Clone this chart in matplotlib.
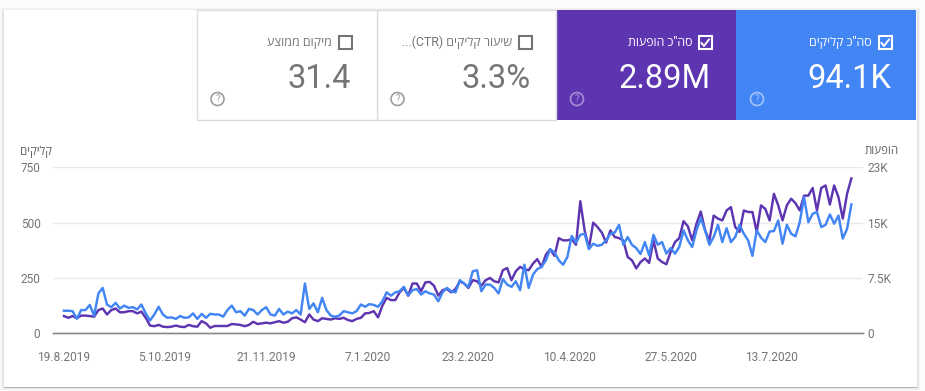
import matplotlib
matplotlib.use("Agg")
import matplotlib.pyplot as plt
from matplotlib.patches import Rectangle, Circle
import pandas as pd

W, H = 925, 391
HEB = ['Roboto', 'Open Sans', 'Liberation Sans', 'DejaVu Sans']
plt.rcParams['font.family'] = HEB

clicks = [102,102,100,66,105,105,128,80,180,205,130,118,138,112,125,115,118,108,130,90,
          58,85,120,85,70,72,65,78,70,72,90,65,88,70,88,85,85,75,105,125,
          95,100,80,110,105,85,105,118,85,80,110,85,98,90,105,85,225,110,135,95,
          160,105,80,75,80,100,95,90,100,130,120,132,128,120,145,185,170,185,190,210,
          170,195,200,175,190,180,175,145,185,205,190,185,240,225,210,280,285,190,220,220,
          205,180,245,220,210,235,195,310,205,265,290,300,330,380,365,330,310,345,440,410,
          445,450,380,405,395,400,420,450,455,490,400,435,400,385,358,412,352,445,400,412,
          360,385,360,390,465,420,390,465,520,465,400,435,490,412,475,412,435,490,450,420,
          350,465,432,412,460,462,510,405,490,450,438,502,615,502,540,548,480,490,537,495,
          532,428,472,582]
impressions_k = [2.34,2.10,2.34,2.04,2.40,2.40,2.34,2.25,3.15,3.36,2.55,3.15,3.36,2.85,2.85,3.00,3.00,2.70,2.94,2.10,
                 1.05,.96,1.14,.90,.84,.90,1.05,.90,.84,1.14,.96,.90,1.65,1.35,.75,.99,.99,.99,.99,1.26,
                 1.20,1.14,.96,1.14,1.56,1.26,1.35,1.44,1.35,1.50,1.65,1.44,1.56,2.04,2.16,1.86,1.50,2.55,1.86,1.65,
                 2.04,1.95,1.86,2.04,1.95,2.10,1.80,1.65,1.95,2.10,2.70,2.76,3.00,2.16,3.75,4.80,4.50,4.50,5.55,6.15,
                 5.10,6.75,6.75,5.70,6.90,6.96,6.45,5.10,5.85,6.00,5.55,6.00,7.05,6.75,6.15,7.20,7.05,6.45,7.20,7.50,
                 7.05,6.90,8.55,8.85,7.20,8.40,9.00,8.70,8.55,9.45,10.05,9.00,10.65,11.40,10.50,12.90,12.60,12.60,12.75,12.00,
                 17.90,13.95,11.55,15.00,14.40,13.65,12.30,13.95,13.05,12.90,12.60,10.35,9.90,8.80,9.66,10.14,9.54,12.60,10.14,9.66,
                 9.36,11.04,12.36,12.90,15.20,14.50,12.60,14.85,16.50,13.95,12.60,15.96,15.54,15.30,16.65,17.10,14.40,13.74,16.65,16.44,
                 16.44,13.74,17.34,16.86,15.30,18.90,17.34,15.30,17.34,18.24,17.64,16.65,18.66,18.66,19.70,16.65,19.70,20.04,17.46,20.04,
                 18.45,15.54,18.90,21.00]

start_date = "2019-08-19"
tick_dates = ["2019-08-19","2019-10-05","2019-11-21","2020-01-07","2020-02-23","2020-04-10","2020-05-27","2020-07-13"]
tick_labels = ["19.8.2019","5.10.2019","21.11.2019","7.1.2020","23.2.2020","10.4.2020","27.5.2020","13.7.2020"]
left_ticks = [0, 250, 500, 750]
left_labels = ["0", "250", "500", "750"]
right_ticks = [0, 7.5, 15, 22.5]
right_labels = ["0", "7.5K", "15K", "23K"]

tile_values = ["94.1K", "2.89M", "3.3%", "31.4"]
tile_names = ['סה"כ קליקים'[::-1], 'סה"כ הופעות'[::-1], "...(CTR) " + "שיעור קליקים"[::-1], "מיקום ממוצע"[::-1]]
left_title = "קליקים"[::-1]
right_title = "הופעות"[::-1]

BLUE, PURPLE, GREY = "#4285f4", "#5e35b1", "#757575"

fig = plt.figure(figsize=(W/100, H/100), dpi=100, facecolor="#fbfbfb")
bg = fig.add_axes([0, 0, 1, 1])
bg.set_xlim(0, W); bg.set_ylim(H, 0); bg.axis("off")

# card with soft shadow, heavier along the bottom edge
for off, col in ((3, "#f3f3f3"), (2, "#ebebeb"), (1, "#e0e0e0")):
    bg.add_patch(Rectangle((4-off, 10-off+1), 913+2*off, 377+2*off-1, fc=col, ec="none"))
bg.add_patch(Rectangle((4, 386), 913, 2.2, fc="#b5b5b5", ec="none"))
bg.add_patch(Rectangle((4, 10), 913, 377, fc="white", ec="none"))

tiles = [(736, 180, BLUE, "white", "#a4c3fa", 891, 885),
         (556, 180, PURPLE, "white", "#a48fd6", 711, 705),
         (376.5, 179.5, "white", GREY, "#9e9e9e", 531, 525),
         (196.5, 180, "white", GREY, "#9e9e9e", 351, 345)]
for (x, w, fc, tc, hc, rx, bx), val, name in zip(tiles, tile_values, tile_names):
    bordered = fc == "white"
    bg.add_patch(Rectangle((x, 10), w, 110, fc=fc, ec="#dcdcdc" if bordered else "none", lw=1))
    bg.text(rx, 88.5, val, ha="right", va="baseline", fontsize=23.5, color=tc, family=HEB)
    # checkbox
    bg.add_patch(Rectangle((bx-6.5, 36), 13, 13, fc="none", ec=tc, lw=1.5))
    if not bordered:
        bg.plot([bx-3.5, bx-1, bx+4], [43, 46, 39.5], color=tc, lw=1.4)
    bg.text(bx-13, 42.5, name, ha="right", va="center", fontsize=8.9, color=tc,
            family=HEB, fontweight="medium" if not bordered else "normal")
    # help icon
    hx = x + 21
    bg.add_patch(Circle((hx, 99), 6.5, fc="none", ec=hc, lw=1.2))
    bg.text(hx, 99.3, "?", ha="center", va="center", fontsize=7, color=hc, family=HEB)

# plot area
x0, x1, y_top, y_base = 53, 863, 167.3, 333.3
ax = fig.add_axes([x0/W, 1-y_base/H, (x1-x0)/W, (y_base-y_top)/H])
ax.patch.set_alpha(0)
ax2 = ax.twinx()
ax2.patch.set_alpha(0)
d0 = pd.Timestamp(start_date)
d_clicks = pd.date_range(d0, periods=len(clicks), freq="2D")
d_impr = pd.date_range(d0, periods=len(impressions_k), freq="2D")
xmin = d0 - pd.Timedelta(days=5.1)
xmax = d0 + pd.Timedelta(days=371.4)

ax.set_zorder(2); ax2.set_zorder(1)
ax2.plot(d_impr, impressions_k, color=PURPLE, lw=1.75, solid_joinstyle="round")
ax.plot(d_clicks, clicks, color=BLUE, lw=1.75, solid_joinstyle="round")
ax.set_xlim(xmin, xmax); ax.set_ylim(0, 750)
ax2.set_ylim(0, 22.5)

ax.set_yticks(left_ticks, left_labels)
ax2.set_yticks(right_ticks, right_labels)
ax.set_xticks(pd.to_datetime(tick_dates), tick_labels)
ax2.grid(True, color="#e9e9e9", lw=1)
ax2.set_axisbelow(True)
ax.tick_params(axis="both", length=0, labelsize=8.6, labelcolor=GREY)
ax.tick_params(axis="x", pad=12.5)
ax.tick_params(axis="y", pad=9)
ax2.tick_params(axis="y", length=0, labelsize=8.6, labelcolor=GREY, pad=3)
for a in (ax, ax2):
    for name, s in a.spines.items():
        s.set_visible(name == "bottom")
        s.set_color("#8a8a8a")
        s.set_linewidth(1)

bg.text(52, 151, left_title, ha="right", va="center", fontsize=8.3, color="#616161", family=HEB)
bg.text(899, 151, right_title, ha="right", va="center", fontsize=8.3, color="#616161", family=HEB)

fig.savefig("out.png", dpi=100, facecolor=fig.get_facecolor())
